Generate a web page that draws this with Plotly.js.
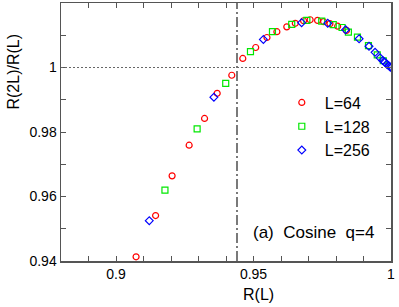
<!DOCTYPE html>
<html>
<head>
<meta charset="utf-8">
<script src="https://cdn.plot.ly/plotly-3.0.1.min.js"></script>
<style>html,body{margin:0;padding:0;background:#fff}#chart{width:399px;height:307px}</style>
</head>
<body>
<div id="chart"></div>
<script>
// L = 64 (red circles)
const x64 = [0.9073, 0.9144, 0.9204, 0.9266, 0.9322, 0.9368, 0.9421, 0.9461, 0.9508, 0.9549, 0.9585, 0.9621, 0.9652, 0.9682, 0.9706, 0.9733, 0.9755, 0.9778, 0.9806, 0.9838];
const y64 = [0.9413, 0.9541, 0.9664, 0.9759, 0.9842, 0.9920, 0.9976, 1.0028, 1.0062, 1.0093, 1.0111, 1.0126, 1.0137, 1.0145, 1.0148, 1.0146, 1.0142, 1.0136, 1.0128, 1.0115];
// L = 128 (green squares)
const x128 = [0.9178, 0.9295, 0.9399, 0.9489, 0.9569, 0.9639, 0.9694, 0.9748, 0.9790, 0.9822, 0.9845, 0.9878, 0.9918, 0.9950, 0.9972];
const y128 = [0.9620, 0.9810, 0.9951, 1.0049, 1.0111, 1.0134, 1.0146, 1.0144, 1.0133, 1.0124, 1.0110, 1.0094, 1.0068, 1.0039, 1.0021];
// L = 256 (blue diamonds)
const x256 = [0.9121, 0.9356, 0.9536, 0.9675, 0.9770, 0.9835, 0.9884, 0.9920, 0.9942, 0.9960, 0.9970, 0.9978, 0.9985, 0.9991, 0.9996, 1.0000];
const y256 = [0.9525, 0.9908, 1.0087, 1.0139, 1.0137, 1.0117, 1.0089, 1.0066, 1.0047, 1.0030, 1.0022, 1.0016, 1.0010, 1.0006, 1.0002, 1.0000];

const seriesNames = ['L=64', 'L=128', 'L=256'];
const criticalR = 0.944;   // vertical dash-dot line
const refRatio = 1;        // horizontal dotted line
const xTickVals = [0.9, 0.95, 1];
const xTickText = ['0.9', '0.95', '1'];
const yTickVals = [0.94, 0.96, 0.98, 1];
const yTickText = ['0.94', '0.96', '0.98', '1'];

const FONT = 'Liberation Sans, Arial, Helvetica, sans-serif';

const traces = [
  {x: x64, y: y64, name: seriesNames[0], mode: 'markers', type: 'scatter',
   marker: {symbol: 'circle-open', size: 6, color: '#ff0000', line: {width: 1.2, color: '#ff0000'}}},
  {x: x128, y: y128, name: seriesNames[1], mode: 'markers', type: 'scatter',
   marker: {symbol: 'square-open', size: 6, color: '#00e800', line: {width: 1.2, color: '#00e800'}}},
  {x: x256, y: y256, name: seriesNames[2], mode: 'markers', type: 'scatter',
   marker: {symbol: 'diamond-open', size: 6, color: '#0000ff', line: {width: 1.2, color: '#0000ff'}}}
];

const axisCommon = {
  showgrid: false, zeroline: false, showline: true, linecolor: '#555', linewidth: 1.5,
  mirror: 'allticks', ticks: 'inside', ticklen: 5, tickwidth: 1, tickcolor: '#555',
  tickfont: {family: FONT, size: 14, color: '#000'}
};

const layout = {
  width: 399, height: 307,
  margin: {l: 61, r: 8, t: 3, b: 46},
  paper_bgcolor: '#fff', plot_bgcolor: '#fff',
  showlegend: true,
  legend: {x: 0.66, y: 0.68, xanchor: 'left', yanchor: 'top', bgcolor: 'rgba(0,0,0,0)',
           itemwidth: 36,
           font: {family: FONT, size: 16, color: '#000'}, tracegroupgap: 0},
  xaxis: Object.assign({}, axisCommon, {
    range: [0.88, 1.0], tickmode: 'array', tickvals: xTickVals, ticktext: xTickText,
    minor: {dtick: 0.01, tick0: 0.88, ticks: 'inside', ticklen: 5, tickcolor: '#555', tickwidth: 1}
  }),
  yaxis: Object.assign({}, axisCommon, {
    range: [0.94, 1.02], tickmode: 'array', tickvals: yTickVals, ticktext: yTickText,
    minor: {dtick: 0.01, tick0: 0.94, ticks: 'inside', ticklen: 5, tickcolor: '#555', tickwidth: 1}
  }),
  shapes: [
    {type: 'line', xref: 'x', yref: 'paper', x0: criticalR, x1: criticalR, y0: 0, y1: 1,
     line: {color: '#333', width: 1.3, dash: '10px,3px,2px,3px'}},
    {type: 'line', xref: 'paper', yref: 'y', x0: 0, x1: 1, y0: refRatio, y1: refRatio,
     line: {color: '#666', width: 1, dash: '2px,2px'}}
  ],
  annotations: [
    {text: 'R(L)', xref: 'paper', yref: 'paper', x: 0.597, y: -0.13, xanchor: 'center', yanchor: 'middle',
     showarrow: false, font: {family: FONT, size: 16, color: '#000'}},
    {text: 'R(2L)/R(L)', xref: 'paper', yref: 'paper', x: -0.145, y: 0.735, xanchor: 'center', yanchor: 'middle',
     textangle: -90, showarrow: false, font: {family: FONT, size: 16, color: '#000'}},
    {text: '(a)&nbsp; Cosine&nbsp; q=4', xref: 'paper', yref: 'paper', x: 0.955, y: 0.112, xanchor: 'right', yanchor: 'middle',
     showarrow: false, font: {family: FONT, size: 17, color: '#000'}}
  ]
};

Plotly.newPlot('chart', traces, layout, {displayModeBar: false, staticPlot: true});
</script>
</body>
</html>
